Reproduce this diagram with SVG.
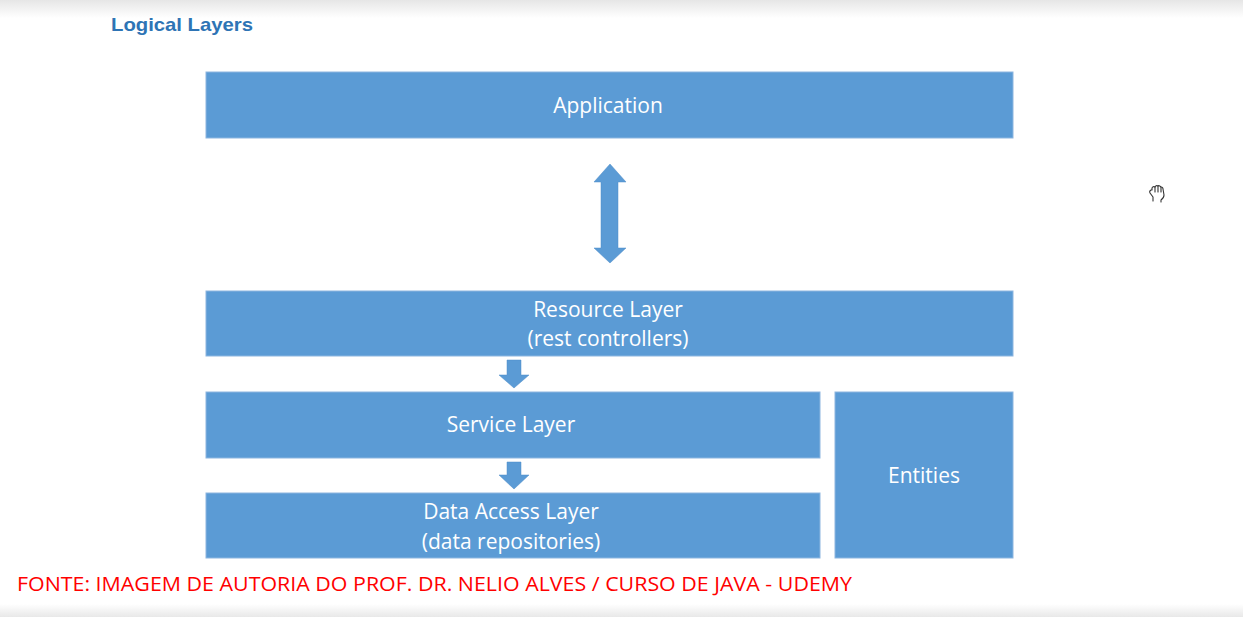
<svg xmlns="http://www.w3.org/2000/svg" width="1243" height="617" viewBox="0 0 1243 617">
<defs>
<linearGradient id="topband" x1="0" y1="0" x2="0" y2="1">
<stop offset="0" stop-color="#e6e6e6"/>
<stop offset="1" stop-color="#ffffff"/>
</linearGradient>
<linearGradient id="botband" x1="0" y1="0" x2="0" y2="1">
<stop offset="0" stop-color="#ffffff"/>
<stop offset="1" stop-color="#e8e8e8"/>
</linearGradient>
</defs>
<style>
.box{fill:#5B9BD5;stroke:#8DB6E0;stroke-width:1}
.lbl{font-family:"Open Sans","Noto Sans","Liberation Sans",sans-serif;font-size:21px;fill:#ffffff;text-anchor:middle}
.arr{fill:#5B9BD5;stroke:#4F8DC8;stroke-width:0.5}
.title{font-family:"Liberation Sans",Arial,sans-serif;font-weight:bold;font-size:19px;fill:#2E74B5}
.foot{font-family:"Open Sans","Noto Sans","Liberation Sans",sans-serif;font-size:20px;fill:#FF0000}
</style>
<rect x="0" y="0" width="1243" height="617" fill="#ffffff"/>
<rect x="0" y="0" width="1243" height="18" fill="url(#topband)"/>
<rect x="0" y="604" width="1243" height="13" fill="url(#botband)"/>
<text class="title" x="111" y="31" textLength="142" lengthAdjust="spacingAndGlyphs">Logical Layers</text>

<g id="application">
<rect class="box" x="206" y="72" width="807" height="66"/>
<text class="lbl" x="608" y="113">Application</text>
</g>
<g id="resource-layer">
<rect class="box" x="206" y="291" width="807" height="65"/>
<text class="lbl" x="608" y="317">Resource Layer</text>
<text class="lbl" x="608" y="346">(rest controllers)</text>
</g>
<g id="service-layer">
<rect class="box" x="206" y="392" width="614" height="66"/>
<text class="lbl" x="511" y="432">Service Layer</text>
</g>
<g id="data-access-layer">
<rect class="box" x="206" y="493" width="614" height="65"/>
<text class="lbl" x="511" y="519">Data Access Layer</text>
<text class="lbl" x="511" y="549">(data repositories)</text>
</g>
<g id="entities">
<rect class="box" x="835" y="392" width="178" height="166"/>
<text class="lbl" x="924" y="483">Entities</text>
</g>

<g id="connectors">
<polygon class="arr" points="610,164 626,182 618,182 618,248 626,248 610,263 594,248 601,248 601,182 594,182"/>
<polygon class="arr" points="507,360 521,360 521,375 529,375 514,388 499,375 507,375"/>
<polygon class="arr" points="507,462 521,462 521,475 529,475 514,489 499,475 507,475"/>
</g>

<g id="cursor" fill="#ffffff" stroke="#333333" stroke-width="1.1" stroke-linejoin="round" stroke-linecap="round">
<path d="M1153,201 L1153,197 L1150,193 Q1149,191 1151,190 L1152,190 L1152,188 Q1153,186 1155,187 Q1156,185 1158,186 Q1159,185 1161,187 Q1163,187 1163,189 L1164,195 Q1164,198 1161,200 L1161,202"/>
<path d="M1155,187 L1155,192 M1158,186 L1158,192 M1161,187 L1161,192" fill="none"/>
</g>

<text class="foot" x="17" y="591" textLength="835" lengthAdjust="spacingAndGlyphs">FONTE: IMAGEM DE AUTORIA DO PROF. DR. NELIO ALVES / CURSO DE JAVA - UDEMY</text>
</svg>
